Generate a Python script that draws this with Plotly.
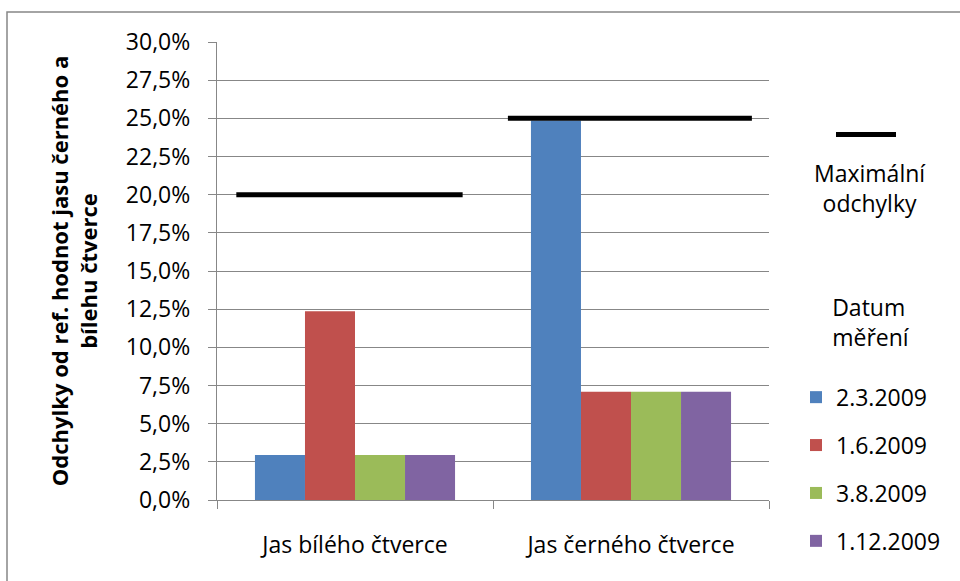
import plotly.graph_objects as go

# Categories (x axis) and measurement dates (series)
categories = ["Jas bílého čtverce", "Jas černého čtverce"]
dates = ["2.3.2009", "1.6.2009", "3.8.2009", "1.12.2009"]

# Deviation from reference brightness, per date: [white square, black square]
dev_2_3_2009 = [0.0294, 0.2485]
dev_1_6_2009 = [0.1236, 0.0709]
dev_3_8_2009 = [0.0294, 0.0709]
dev_1_12_2009 = [0.0294, 0.0709]

# Maximum allowed deviation per category
max_dev = [0.20, 0.25]

y_ticks = [i * 0.025 for i in range(13)]

series = [dev_2_3_2009, dev_1_6_2009, dev_3_8_2009, dev_1_12_2009]
colors = ["#4F81BD", "#C0504D", "#9BBB59", "#8064A2"]

FONT = "Open Sans"
FS = 23
W, H = 960, 581
ML, MR, MT, MB = 217, 191, 42, 81
PW, PH = W - ML - MR, H - MT - MB

def px_x(p):
    return (p - ML) / PW

def px_y(p):
    return (H - MB - p) / PH

xpos = list(range(len(categories)))

fig = go.Figure()
for name, vals, col in zip(dates, series, colors):
    fig.add_trace(go.Bar(
        x=xpos, y=vals, name=name, marker_color=col, marker_line_width=0,
        legend="legend", legendgroup=name,
    ))

# horizontal limit segments spanning each category group
seg_extent = [(-0.43, 0.39), (-0.446, 0.438)]
lx, ly = [], []
for c, m, (a, b) in zip(xpos, max_dev, seg_extent):
    lx += [c + a, c + b, None]
    ly += [m, m, None]
fig.add_trace(go.Scatter(
    x=lx, y=ly, mode="lines", name=" ",
    line=dict(color="black", width=5), legend="legend2",
))

grid = "#878787"
fig.update_layout(
    width=W, height=H, autosize=False,
    margin=dict(l=ML, r=MR, t=MT, b=MB, autoexpand=False),
    paper_bgcolor="white", plot_bgcolor="white",
    separators=", ",
    barmode="group", bargap=0.275, bargroupgap=0,
    font=dict(family=FONT, size=FS, color="black"),
    xaxis=dict(
        range=[-0.5, 1.5], tickvals=xpos, ticktext=categories,
        ticks="", showgrid=False, zeroline=False, automargin=False,
        showline=True, linecolor=grid, linewidth=1.3,
        tickfont=dict(size=FS),
        minor=dict(tickvals=[-0.5, 0.5, 1.5], ticks="outside",
                   ticklen=8, tickcolor=grid, tickwidth=1.3, showgrid=False),
        ticklabelstandoff=24,
    ),
    yaxis=dict(
        range=[0, 0.30], tickvals=y_ticks, tickformat=".1%",
        ticks="outside", ticklen=8, tickcolor=grid, tickwidth=1.3,
        showgrid=True, gridcolor=grid, gridwidth=1.3, automargin=False,
        zeroline=False, showline=True, linecolor=grid, linewidth=1.3,
        tickfont=dict(size=FS), ticklabelstandoff=13,
        title=dict(text="Odchylky od ref. hodnot jasu černého a<br>bílehu čtverce",
                   font=dict(size=22, family=FONT, weight="bold"), standoff=22),
    ),
    legend=dict(
        x=px_x(796), xanchor="left", y=px_y(286), yanchor="top",
        title=dict(text="Datum<br>měření<br> ", side="top center", font=dict(size=FS)),
        font=dict(size=FS), tracegroupgap=15, bgcolor="rgba(0,0,0,0)",
        traceorder="grouped",
    ),
    legend2=dict(
        x=px_x(831), xanchor="left", y=px_y(113), yanchor="top",
        font=dict(size=FS), itemwidth=60, bgcolor="rgba(0,0,0,0)",
    ),
    showlegend=True,
    annotations=[dict(
        text="Maximální<br>odchylky", xref="paper", yref="paper",
        x=px_x(870), y=px_y(188), xanchor="center", yanchor="middle",
        showarrow=False, font=dict(size=FS),
    )],
    shapes=[dict(
        type="rect", xref="paper", yref="paper",
        x0=px_x(7), y0=px_y(600), x1=px_x(980), y1=px_y(12),
        line=dict(color=grid, width=1.5), fillcolor="rgba(0,0,0,0)", layer="below",
    )],
)

fig.write_html("out.html")
